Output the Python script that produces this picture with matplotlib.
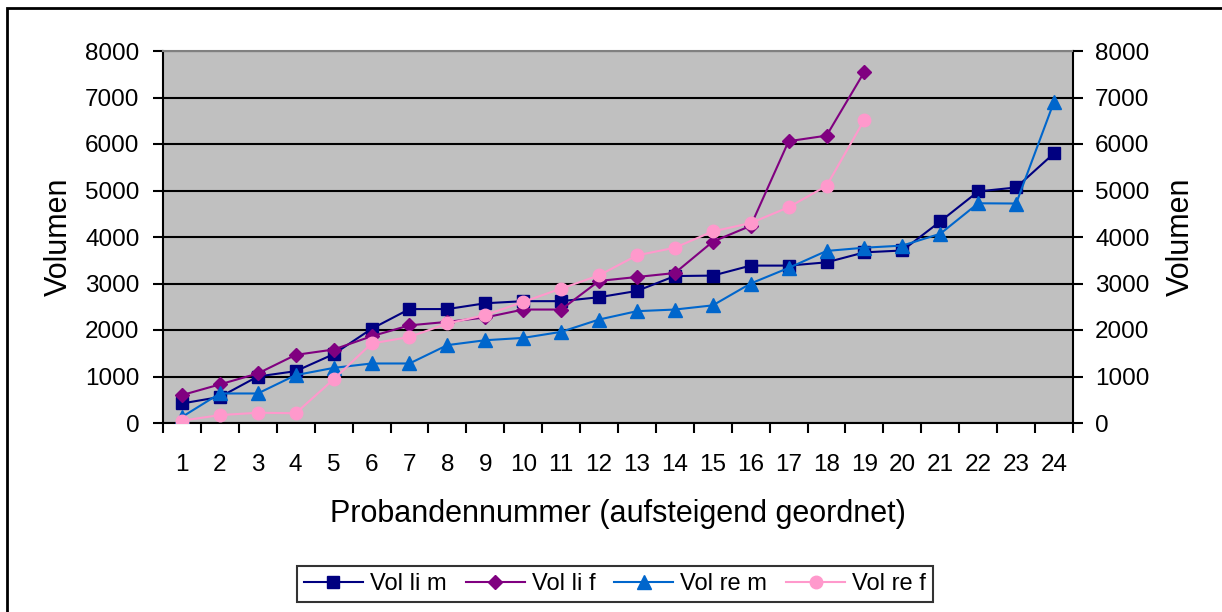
import numpy as np
import matplotlib
matplotlib.use('Agg')
import matplotlib.pyplot as plt
from matplotlib.patches import Rectangle
from matplotlib.ticker import MultipleLocator, FixedLocator

plt.rcParams['font.family'] = ['Liberation Sans', 'DejaVu Sans']

# probands (ascending order)
probanden = list(range(1, 25))
vol_li_m = [420, 560, 1000, 1115, 1480, 2025, 2450, 2450, 2575, 2620, 2620, 2705,
            2840, 3160, 3170, 3385, 3385, 3455, 3670, 3710, 4335, 4980, 5065, 5800]
vol_li_f = [600, 830, 1065, 1465, 1580, 1865, 2100, 2175, 2270, 2440, 2440, 3055,
            3140, 3225, 3900, 4240, 6060, 6180, 7555]
vol_re_m = [130, 635, 635, 1030, 1185, 1280, 1280, 1675, 1780, 1830, 1960, 2225,
            2405, 2440, 2530, 3000, 3335, 3700, 3770, 3815, 4070, 4725, 4720, 6910]
vol_re_f = [50, 170, 220, 210, 940, 1710, 1850, 2140, 2320, 2605, 2890, 3175,
            3605, 3770, 4120, 4300, 4640, 5100, 6525]

W, H = 1222, 612
fig = plt.figure(figsize=(W/100, H/100), dpi=100)
ax = fig.add_axes([163/W, 1-423/H, (1073-163)/W, (423-51)/H])
ax.set_facecolor('#C0C0C0')

ax.plot(probanden[:len(vol_li_m)], vol_li_m, color='#000080', marker='s', ms=8.5, lw=1.5, label='Vol li m', zorder=3)
ax.plot(probanden[:len(vol_li_f)], vol_li_f, color='#800080', marker='D', ms=7.5, lw=1.5, label='Vol li f', zorder=3)
ax.plot(probanden[:len(vol_re_m)], vol_re_m, color='#0066CC', marker='^', ms=10, lw=1.5, label='Vol re m', zorder=3)
ax.plot(probanden[:len(vol_re_f)], vol_re_f, color='#FF99CC', marker='o', ms=9, lw=1.5, label='Vol re f', zorder=3)

ax.set_xlim(0.5, 24.5)
ax.set_ylim(0, 8000)
ax.yaxis.set_major_locator(MultipleLocator(1000))
ax.grid(axis='y', color='black', lw=1.5, zorder=1)
ax.set_axisbelow(True)

ax.xaxis.set_major_locator(FixedLocator(probanden))
ax.xaxis.set_minor_locator(FixedLocator(np.arange(0.5, 25, 1)))
ax.tick_params(axis='x', which='major', length=0, pad=22, labelsize=17.5)
ax.tick_params(axis='x', which='minor', length=7, width=1.5, direction='out')
ax.tick_params(axis='y', length=7, width=1.5, direction='out', pad=10, labelsize=17.5)

for s in ['left', 'bottom', 'right']:
    ax.spines[s].set_linewidth(1.5)
ax.spines['top'].set_color('#808080')
ax.spines['top'].set_linewidth(1.5)

ax.set_ylabel('Volumen', fontsize=22, labelpad=8)
ax.set_xlabel('Probandennummer (aufsteigend geordnet)', fontsize=22, labelpad=17)

ax2 = ax.twinx()
ax2.set_ylim(0, 8000)
ax2.yaxis.set_major_locator(MultipleLocator(1000))
ax2.tick_params(axis='y', length=7, width=1.5, direction='out', pad=9, labelsize=17.5)
ax2.set_ylabel('Volumen', fontsize=22, labelpad=12)
for s in ax2.spines.values():
    s.set_visible(False)

leg = fig.legend(loc='center', bbox_to_anchor=(615/W, 1-584/H), ncol=4, fontsize=17,
                 frameon=True, fancybox=False, edgecolor='black', handlelength=2.5,
                 columnspacing=0.8, handletextpad=0.3, borderpad=0.3)
leg.get_frame().set_linewidth(1.5)

fig.add_artist(Rectangle((7/W, -0.1), 1.2, 1.1-8/H, transform=fig.transFigure,
                         fill=False, edgecolor='black', lw=2))

fig.savefig('out.png', dpi=100)
